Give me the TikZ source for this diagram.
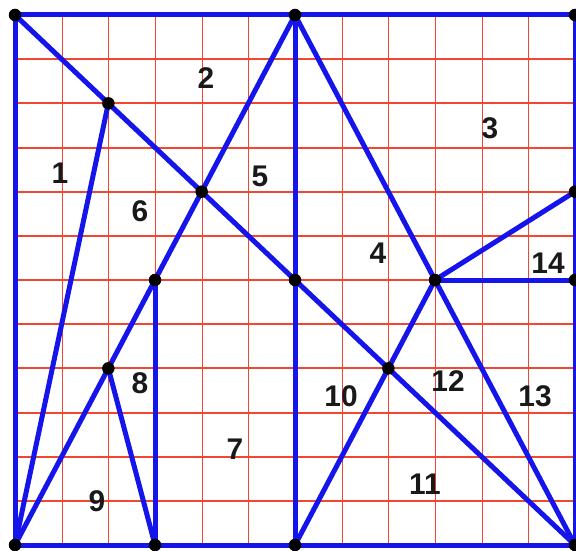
\documentclass[tikz,border=0pt]{standalone}
\usepackage{fontspec}
\setmainfont{Liberation Sans}
\definecolor{gridred}{RGB}{240,70,50}
\definecolor{edgeblue}{RGB}{20,20,235}
\begin{document}
\begin{tikzpicture}[x=1bp,y=-1bp,
  gridline/.style={draw=gridred, line width=1.3bp},
  edge/.style={draw=edgeblue, line width=5bp, line cap=round},
  pt/.style={circle, fill=black, inner sep=0pt, minimum size=12.5bp},
  lab/.style={font=\fontsize{30}{30}\selectfont\bfseries, text=black!90}]
\useasboundingbox (0,0) rectangle (576,551);
\def\gx#1{15+46.667*#1}
\def\gy#1{15+44.167*#1}
% grid
\foreach \i in {1,...,11} {
  \pgfmathsetmacro\px{round(15+46.667*\i)+0.5}
  \pgfmathsetmacro\py{round(15+44.167*\i)}
  \draw[gridline] (\px,{\gy{0}}) -- (\px,{\gy{12}});
  \draw[gridline] ({\gx{0}},\py) -- ({\gx{12}},\py);
}
% points
\foreach \n/\i/\j in {A/0/0,B/6/0,C/12/0,D/2/2,E/4/4,F/3/6,G/6/6,H/2/8,I/8/8,J/9/6,K/12/4,L/12/6,M/0/12,N/3/12,O/6/12,P/12/12}
  \coordinate (\n) at ({\gx{\i}},{\gy{\j}});
% edges
\draw[edge] (A) -- (C) -- (P) -- (M) -- cycle;
\draw[edge] (A) -- (D) -- (E) -- (G) -- (I) -- (P);
\draw[edge] (M) -- (D);
\draw[edge] (M) -- (H) -- (F) -- (E) -- (B);
\draw[edge] (H) -- (N);
\draw[edge] (F) -- (N);
\draw[edge] (B) -- (G) -- (O);
\draw[edge] (B) -- (J) -- (P);
\draw[edge] (O) -- (I) -- (J);
\draw[edge] (J) -- (K);
\draw[edge] (J) -- (L);
% dots
\foreach \n in {A,B,C,D,E,F,G,H,I,J,K,L,M,N,O,P}
  \node[pt] (d\n) at (\n) {};
% labels
\node[lab] (l1) at (60,173) {1};
\node[lab] (l2) at (206,78) {2};
\node[lab] (l3) at (490,128) {3};
\node[lab] (l4) at (378,253) {4};
\node[lab] (l5) at (260,176) {5};
\node[lab] (l6) at (140,211) {6};
\node[lab] (l7) at (235,449) {7};
\node[lab] (l8) at (140,383) {8};
\node[lab] (l9) at (97,501) {9};
\node[lab] (l10) at (341,396) {10};
\node[lab] (l11) at (425,484) {11};
\node[lab] (l12) at (448,381) {12};
\node[lab] (l13) at (535,396) {13};
\node[lab] (l14) at (548,263) {14};
\end{tikzpicture}
\end{document}
